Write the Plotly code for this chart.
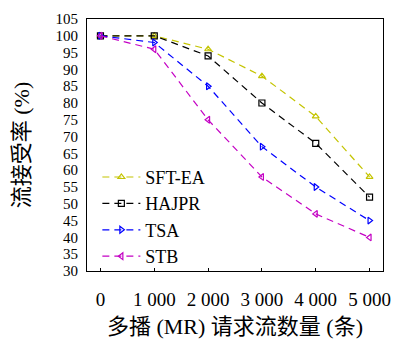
import plotly.graph_objects as go

x_vals = [0, 1000, 2000, 3000, 4000, 5000]
x_labels = ["0", "1 000", "2 000", "3 000", "4 000", "5 000"]
sft_ea = [100, 100, 96, 88, 76, 58]
hajpr = [100, 100, 94, 80, 68, 52]
tsa = [100, 98, 85, 67, 55, 45]
stb = [100, 96, 75, 58, 47, 40]
y_ticks = list(range(30, 106, 5))

series = [
    ("SFT-EA", sft_ea, "#c4c400", "triangle-up-open"),
    ("HAJPR", hajpr, "#000000", "square-open"),
    ("TSA", tsa, "#0000ff", "triangle-right-open"),
    ("STB", stb, "#c400c4", "triangle-left-open"),
]

font_fam = "Liberation Serif, Noto Sans CJK SC, serif"
fig = go.Figure()
for name, ys, col, sym in series:
    fig.add_trace(go.Scatter(
        x=x_vals, y=ys, name=name, mode="lines+markers",
        line=dict(color=col, width=1.2, dash="7px,5px"),
        marker=dict(symbol=sym, size=6, color=col, line=dict(width=1.2, color=col)),
    ))

fig.update_layout(
    width=402, height=345,
    margin=dict(l=87, r=11, t=17, b=69),
    plot_bgcolor="white", paper_bgcolor="white",
    font=dict(family=font_fam, size=19, color="black"),
    showlegend=True,
    legend=dict(x=0.035, y=-0.015, xanchor="left", yanchor="bottom",
                bgcolor="rgba(0,0,0,0)", font=dict(size=18, family=font_fam),
                tracegroupgap=0, itemwidth=38),
    xaxis=dict(range=[-250, 5250], tickvals=x_vals, ticktext=x_labels,
               showgrid=False, zeroline=False, showline=True, linecolor="black",
               linewidth=1.2, mirror=True, ticks="inside", ticklen=3,
               tickcolor="black", tickfont=dict(size=19), ticklabelstandoff=11,
               title=dict(text="多播 (MR) 请求流数量 (条)", font=dict(size=22), standoff=9)),
    yaxis=dict(range=[30, 105], tickvals=y_ticks,
               showgrid=False, zeroline=False, showline=True, linecolor="black",
               linewidth=1.2, mirror=True, ticks="", tickfont=dict(size=15),
               ticklabelstandoff=5,
               title=dict(text="流接受率 (%)", font=dict(size=22), standoff=19)),
)

fig.write_html("out.html")
